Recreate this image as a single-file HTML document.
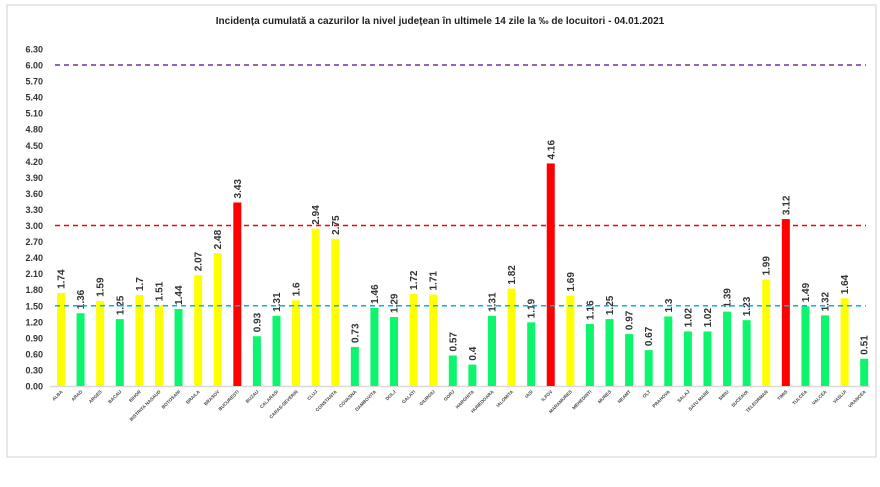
<!DOCTYPE html>
<html><head><meta charset="utf-8"><style>body{margin:0;background:#fff}svg{display:block}</style></head><body>
<svg id="s" width="880" height="487" xmlns="http://www.w3.org/2000/svg" font-family="Liberation Sans, sans-serif">
<rect x="7" y="5" width="869" height="452" fill="#fff" stroke="#d0d0d0" stroke-width="1"/>
<text x="440" y="24" text-anchor="middle" font-size="10" font-weight="bold" fill="#222">Incidența cumulată a cazurilor la nivel județean în ultimele 14 zile la ‰ de locuitori - 04.01.2021</text>
<g id="g"></g>
</svg>
<script>
var v=[1.74,1.36,1.59,1.25,1.7,1.51,1.44,2.07,2.48,3.43,0.93,1.31,1.6,2.94,2.75,0.73,1.46,1.29,1.72,1.71,0.57,0.4,1.31,1.82,1.19,4.16,1.69,1.16,1.25,0.97,0.67,1.3,1.02,1.02,1.39,1.23,1.99,3.12,1.49,1.32,1.64,0.51];
var n=["ALBA","ARAD","ARGES","BACAU","BIHOR","BISTRITA NASAUD","BOTOSANI","BRAILA","BRASOV","BUCURESTI","BUZAU","CALARASI","CARAS-SEVERIN","CLUJ","CONSTANTA","COVASNA","DAMBOVITA","DOLJ","GALATI","GIURGIU","GORJ","HARGHITA","HUNEDOARA","IALOMITA","IASI","ILFOV","MARAMURES","MEHEDINTI","MURES","NEAMT","OLT","PRAHOVA","SALAJ","SATU MARE","SIBIU","SUCEAVA","TELEORMAN","TIMIS","TULCEA","VALCEA","VASLUI","VRANCEA"];
var y0=386,k=53.5,h="";
function Y(t){return y0-t*k}
for(var i=0;i<=21;i++){var t=i*0.3;h+='<text x="43" y="'+(Y(t)+3.5)+'" text-anchor="end" font-size="9" font-weight="bold" fill="#333">'+t.toFixed(2)+'</text>';}
h+='<line x1="50" y1="386.5" x2="870" y2="386.5" stroke="#d9d9d9" stroke-width="1.5"/>';
for(i=0;i<42;i++){var x=61+i*19.59,c=v[i]>=3?'#ff0000':v[i]>=1.5?'#ffff00':'#0df56c';
h+='<rect x="'+(x-4)+'" y="'+Y(v[i])+'" width="8" height="'+(v[i]*k)+'" fill="'+c+'"/>';
h+='<text transform="translate('+(x+3.5)+','+(Y(v[i])-4)+') rotate(-90)" font-size="10" font-weight="bold" fill="#333">'+v[i]+'</text>';
h+='<text transform="translate('+(x+2)+',392) rotate(-45)" text-anchor="end" font-size="4.6" font-weight="bold" fill="#444">'+n[i]+'</text>';}
h+='<line x1="55" y1="'+Y(6)+'" x2="866" y2="'+Y(6)+'" stroke="#7030a0" stroke-width="1.5" stroke-dasharray="5,4"/>';
h+='<line x1="55" y1="'+Y(3)+'" x2="866" y2="'+Y(3)+'" stroke="#ff0000" stroke-width="1.5" stroke-dasharray="5,4"/>';
h+='<line x1="55" y1="'+Y(1.5)+'" x2="866" y2="'+Y(1.5)+'" stroke="#00b0f0" stroke-width="1.5" stroke-dasharray="5,4"/>';
document.getElementById('g').innerHTML=h;
</script>
</body></html>
